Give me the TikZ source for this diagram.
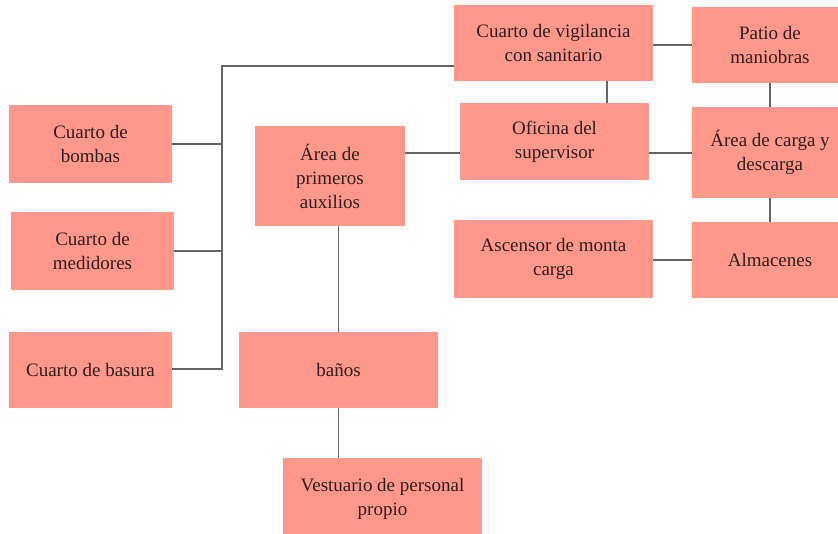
\documentclass[tikz,border=0pt]{standalone}
\usepackage{fontspec}
\setmainfont{Liberation Serif}
\definecolor{boxfill}{RGB}{255,152,138}
\definecolor{txt}{RGB}{45,30,30}
\definecolor{conn}{RGB}{100,100,100}
\tikzset{
  box/.style={fill=boxfill, inner sep=2pt, align=center, text=txt,
    font=\rmfamily\fontsize{19}{24}\selectfont},
  link/.style={draw=conn, line width=1.3pt}
}
\begin{document}
\begin{tikzpicture}[x=1pt,y=-1pt]
\useasboundingbox (0,0) rectangle (838,533);
\node[box, minimum width=199, minimum height=76] (vig) at (553.5,43) {Cuarto de vigilancia\\con sanitario};
\node[box, minimum width=156, minimum height=76] (patio) at (770,45) {Patio de\\maniobras};
\node[box, minimum width=163, minimum height=78] (bombas) at (90.5,144) {Cuarto de\\bombas};
\node[box, minimum width=163, minimum height=78] (medid) at (92.5,251) {Cuarto de\\medidores};
\node[box, minimum width=163, minimum height=76] (basura) at (90.5,370) {Cuarto de basura};
\node[box, minimum width=150, minimum height=100] (prim) at (330,176) {Área de\\primeros\\auxilios};
\node[box, minimum width=189, minimum height=77] (ofi) at (554.5,141.5) {Oficina del\\supervisor};
\node[box, minimum width=156, minimum height=91] (carga) at (770,152.5) {Área de carga y\\descarga};
\node[box, minimum width=199, minimum height=78] (asc) at (553.5,259) {Ascensor de monta\\carga};
\node[box, minimum width=156, minimum height=76] (alm) at (770,260) {Almacenes};
\node[box, minimum width=199, minimum height=76] (banos) at (338.5,370) {baños};
\node[box, minimum width=199, minimum height=82] (vest) at (382.5,499) {Vestuario de personal\\propio};
\coordinate (bt) at (222,66);
\coordinate (bb) at (222,369);
\coordinate (ly) at (0,153);
\coordinate (vx) at (607,0);
\path[link] (vig.west |- bt) -- (bt) -- (bb) -- (basura.east |- bb);
\path[link] (bombas.east) -- (bombas.east -| bt);
\path[link] (medid.east) -- (medid.east -| bt);
\path[link] (vig.east |- patio.west) -- (patio.west);
\path[link] (vig.south -| vx) -- (ofi.north -| vx);
\path[link] (patio.south) -- (carga.north);
\path[link] (carga.south) -- (alm.north);
\path[link] (prim.east |- ly) -- (ofi.west |- ly);
\path[link] (ofi.east |- ly) -- (carga.west |- ly);
\path[link] (asc.east |- alm.west) -- (alm.west);
\path[link] (prim.south -| banos.north) -- (banos.north);
\path[link] (banos.south) -- (vest.north -| banos.south);
\end{tikzpicture}
\end{document}
